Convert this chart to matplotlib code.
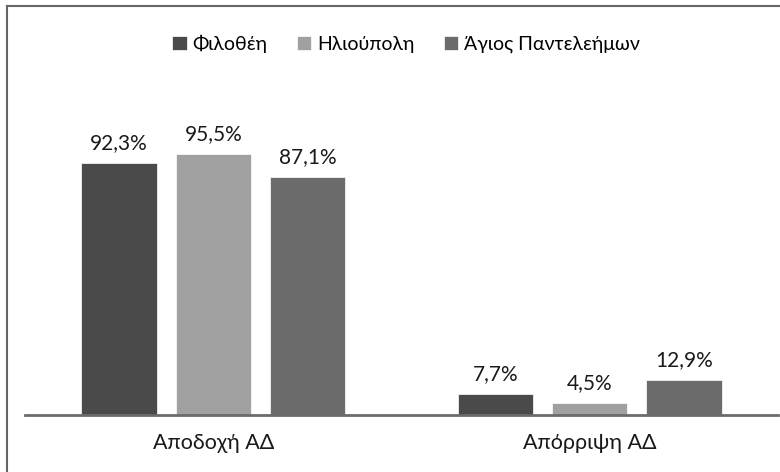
import matplotlib.pyplot as plt
import numpy as np
from matplotlib.lines import Line2D

plt.rcParams['font.family'] = ['Lato', 'DejaVu Sans']

categories = ["Αποδοχή ΑΔ", "Απόρριψη ΑΔ"]
series_names = ["Φιλοθέη", "Ηλιούπολη", "Άγιος Παντελεήμων"]
filothei = [92.3, 7.7]
ilioupoli = [95.5, 4.5]
agios = [87.1, 12.9]
colors = ["#4a4a4a", "#a0a0a0", "#6b6b6b"]

W, H = 780, 472
fig = plt.figure(figsize=(W / 100, H / 100), dpi=100)
ax = fig.add_axes([25 / W, (H - 415) / H, 753 / W, 335 / H])

x = np.arange(len(categories))
width = 0.2
offsets = [-0.25, 0, 0.25]
for vals, name, col, off in zip([filothei, ilioupoli, agios], series_names, colors, offsets):
    bars = ax.bar(x + off, vals, width, color=col, label=name, edgecolor="white", linewidth=0.5)
    for b, v in zip(bars, vals):
        ax.annotate(f"{v:.1f}%".replace(".", ","), (b.get_x() + b.get_width() / 2, v),
                    xytext=(0, 7), textcoords="offset points", ha="center", va="bottom",
                    fontsize=15, color="#1a1a1a")

ax.set_xlim(-0.5, 1.5)
ax.set_ylim(0, 122.7)
ax.set_xticks(x)
ax.set_xticklabels(categories, fontsize=15.5, color="#1a1a1a")
ax.tick_params(axis="x", length=0, pad=13)
ax.set_yticks([])
for s in ["top", "right", "left"]:
    ax.spines[s].set_visible(False)
ax.spines["bottom"].set_color("#6b6b6b")
ax.spines["bottom"].set_linewidth(2)

fig.legend(loc="center", bbox_to_anchor=(406 / W, 1 - 44 / H), ncol=3, frameon=False,
           fontsize=14, handlelength=0.75, handleheight=0.75, handletextpad=0.3,
           columnspacing=1.5)

# outer border (right and bottom edges are cut off in the original)
fig.add_artist(Line2D([6.5 / W, 6.5 / W], [0, 1 - 5.5 / H], color="#666666", lw=1.5))
fig.add_artist(Line2D([6.5 / W, 1], [1 - 5.5 / H, 1 - 5.5 / H], color="#666666", lw=1.5))

fig.savefig("out.png", dpi=100)
